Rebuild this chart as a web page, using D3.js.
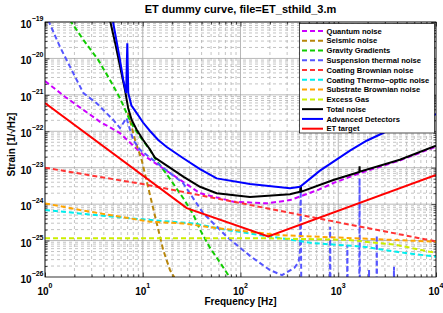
<!DOCTYPE html>
<html>
<head>
<meta charset="utf-8">
<script src="https://cdn.jsdelivr.net/npm/d3@7"></script>
<style>
body { margin: 0; background: #fff; }
svg { font-family: "Liberation Sans", Arial, sans-serif; font-weight: bold; }
</style>
</head>
<body>
<svg id="chart" width="443" height="313"></svg>
<script>
// values, [frequency in Hz, strain in 1/sqrt(Hz)]
var quantumNoise = [[1, 2.4e-21], [1.6, 8.9e-22], [3.66, 1.82e-22], [5.85, 8.9e-23], [10.1, 2.24e-23],
  [26.2, 4.0e-24], [38.5, 2.0e-24], [84.5, 1.17e-24], [185, 1.05e-24], [321, 1.29e-24],
  [631, 2.5e-24], [891, 3.8e-24], [1660, 7.1e-24], [4266, 1.58e-23], [10000, 3.8e-23]];
var seismicNoise = [[7.08, 3.2e-22], [8.34, 5.75e-23], [9.75, 1.62e-23], [11.86, 1.78e-24],
  [13.9, 3.0e-25], [16.2, 5.5e-26], [19.0, 1.55e-26], [20.9, 1.0e-26], [22, 6e-27]];
var gravityGradients = [[1.58, 5.0e-19], [1.80, 1.12e-19], [2.47, 3.24e-20], [3.5, 9.1e-21],
  [4.62, 2.57e-21], [5.85, 8.1e-22], [7.11, 2.5e-22], [8.0, 1.35e-22], [9.38, 7.1e-23],
  [11.86, 3.1e-23], [13.3, 1.82e-23], [17.8, 6.3e-24], [26.2, 1.41e-24], [33.1, 5.0e-25],
  [38.5, 2.0e-25], [48.8, 6.3e-26], [61.7, 2.5e-26], [79.4, 8.9e-27]];
var suspensionThermal = [[1, 1.78e-19], [1.42, 2.1e-20], [1.95, 3.9e-21], [2.47, 1.12e-21],
  [3.38, 5.9e-22], [5.0, 2.04e-22], [5.85, 1.23e-22], [6.82, 2.3e-22], [7.41, 1.1e-22],
  [8.0, 5.75e-23], [9.38, 3.1e-23], [11.86, 1.9e-23], [25.8, 3.8e-24], [41.3, 5.75e-25],
  [72.8, 1.26e-25], [125, 3.8e-26], [200, 1.55e-26], [266, 1.12e-26], [355, 1.78e-26],
  [394, 2.57e-26], [407, 5.5e-26], [413, 3.0e-24], [419, 3e-27],
  [818, 3e-27], [826, 2.4e-25], [834, 3e-27],
  [1228, 3e-27], [1239, 7.6e-26], [1250, 3e-27],
  [1640, 3e-27], [1652, 5.2e-24], [1664, 3e-27],
  [2050, 3e-27], [2065, 1.55e-26], [2080, 3e-27],
  [2460, 3e-27], [2478, 1.41e-25], [2496, 3e-27],
  [3690, 3e-27], [3717, 1.9e-26], [3744, 3e-27], [10000, 3e-27]];
var coatingBrownian = [[1, 1.0e-23], [10, 3.55e-24], [100, 1.07e-24], [1000, 3.16e-25], [10000, 9.5e-26]];
var coatingThermoOptic = [[1, 6.9e-25], [7.41, 4.07e-25], [32.9, 2.95e-25], [72.3, 1.95e-25],
  [254, 1.17e-25], [556, 8.5e-26], [1803, 6.8e-26], [3963, 4.9e-26], [10000, 3.6e-26]];
var substrateBrownian = [[1, 1.05e-24], [2.28, 6.9e-25], [7.41, 4.07e-25], [11.86, 3.3e-25],
  [26, 2.95e-25], [57, 2.2e-25], [254, 1.41e-25], [10000, 9.3e-26]];
var excessGas = [[1, 1.15e-25], [200, 1.15e-25], [1219, 1.05e-25], [3963, 7.6e-26], [8710, 4.9e-26], [10000, 4.6e-26]];
var totalNoise = [[4.62, 1.12e-19], [5.25, 2.5e-20], [5.94, 5.0e-21], [6.58, 1.35e-21], [7.11, 4.2e-22],
  [7.71, 2.04e-22], [8.67, 1.1e-22], [10.1, 5.75e-23], [11.86, 3.16e-23], [13.3, 1.9e-23],
  [17.8, 1.12e-23], [26.2, 5.6e-24], [38.5, 3.0e-24], [57, 2.0e-24], [125, 1.58e-24],
  [321, 1.86e-24], [407, 2.2e-24], [413, 3.2e-24], [419, 2.2e-24], [891, 4.6e-24],
  [1645, 7.6e-24], [1652, 1.1e-23], [1660, 7.8e-24], [4266, 1.66e-23], [10000, 4.0e-23]];
var advancedDetectors = [[4.97, 1e-19], [5.85, 9.1e-21], [6.32, 2.57e-21], [6.76, 1.12e-21],
  [6.95, 2.6e-20], [7.11, 1.12e-21], [7.66, 5.1e-22], [8.61, 3.24e-22], [10.07, 1.74e-22],
  [11.86, 1.02e-22], [14.4, 5.75e-23], [17.6, 3.7e-23], [26.0, 1.82e-23], [38.5, 9.1e-24],
  [57, 5.1e-24], [125, 3.55e-24], [321, 2.75e-24], [407, 3.0e-24], [650, 8.3e-24],
  [1318, 2.95e-23], [1950, 5.5e-23], [3388, 1.1e-22], [10000, 2.95e-22]];
var etTarget = [[1, 6.0e-22], [28.2, 7.8e-25], [192, 1.29e-25], [10000, 6.3e-24]];

var seriesNames = ["Quantum noise", "Seismic noise", "Gravity Gradients", "Suspension thermal noise",
  "Coating Brownian noise", "Coating Thermo\u2212optic noise", "Substrate Brownian noise", "Excess Gas",
  "Total noise", "Advanced Detectors", "ET target"];
var xTickExps = [0, 1, 2, 3, 4];
var yTickExps = [-19, -20, -21, -22, -23, -24, -25, -26];

var series = [
  {data: quantumNoise, color: "#cc00ff", dash: "5,3"},
  {data: seismicNoise, color: "#b8860b", dash: "5,3"},
  {data: gravityGradients, color: "#11cc00", dash: "5,3"},
  {data: suspensionThermal, color: "#5555ff", dash: "5,3"},
  {data: coatingBrownian, color: "#ff3333", dash: "5,3"},
  {data: coatingThermoOptic, color: "#00eeee", dash: "5,3"},
  {data: substrateBrownian, color: "#ffa500", dash: "5,3"},
  {data: excessGas, color: "#ccee00", dash: "5,3"},
  {data: totalNoise, color: "#000000", dash: null},
  {data: advancedDetectors, color: "#0000ff", dash: null},
  {data: etTarget, color: "#ff0000", dash: null}
];
series.forEach(function(s, i) { s.name = seriesNames[i]; });

var plotLeft = 45, plotRight = 436, plotTop = 22, plotBottom = 277;
var x = d3.scaleLog().domain([1, 1e4]).range([plotLeft, plotRight]);
var y = d3.scaleLog().domain([1e-26, 1e-19]).range([plotBottom, plotTop]);

var svg = d3.select("#chart");

function isMajor(d) {
  var l = Math.log10(d);
  return Math.abs(l - Math.round(l)) < 1e-6;
}

// grid
var grid = svg.append("g");
grid.selectAll(".vgrid")
  .data(x.ticks())
  .enter().append("line")
  .attr("x1", function(d) { return x(d); })
  .attr("x2", function(d) { return x(d); })
  .attr("y1", plotTop).attr("y2", plotBottom)
  .attr("stroke", function(d) { return isMajor(d) ? "#999" : "#aaa"; })
  .attr("stroke-width", 0.7)
  .attr("stroke-dasharray", function(d) { return isMajor(d) ? null : "3,3"; });
grid.selectAll(".hgrid")
  .data(y.ticks())
  .enter().append("line")
  .attr("y1", function(d) { return y(d); })
  .attr("y2", function(d) { return y(d); })
  .attr("x1", plotLeft).attr("x2", plotRight)
  .attr("stroke", function(d) { return isMajor(d) ? "#999" : "#aaa"; })
  .attr("stroke-width", 0.7)
  .attr("stroke-dasharray", function(d) { return isMajor(d) ? null : "3,3"; });

// ticks, inside, on all four sides
var minorX = x.ticks().filter(function(d) { return !isMajor(d); });
var majorX = x.ticks().filter(isMajor);
var minorY = y.ticks().filter(function(d) { return !isMajor(d); });
var majorY = y.ticks().filter(isMajor);
function addAxis(axisFn, scale, vals, size, transform) {
  svg.append("g")
    .attr("transform", transform)
    .call(axisFn(scale).tickValues(vals).tickSize(size).tickSizeOuter(0).tickFormat(""))
    .call(function(g) { g.select(".domain").remove(); })
    .selectAll("line").attr("stroke", "#000").attr("stroke-width", 0.7);
}
addAxis(d3.axisBottom, x, minorX, -2.5, "translate(0," + plotBottom + ")");
addAxis(d3.axisBottom, x, majorX, -4.5, "translate(0," + plotBottom + ")");
addAxis(d3.axisTop, x, minorX, -2.5, "translate(0," + plotTop + ")");
addAxis(d3.axisTop, x, majorX, -4.5, "translate(0," + plotTop + ")");
addAxis(d3.axisLeft, y, minorY, -2.5, "translate(" + plotLeft + ",0)");
addAxis(d3.axisLeft, y, majorY, -4.5, "translate(" + plotLeft + ",0)");
addAxis(d3.axisRight, y, minorY, -2.5, "translate(" + plotRight + ",0)");
addAxis(d3.axisRight, y, majorY, -4.5, "translate(" + plotRight + ",0)");

// curves
svg.append("clipPath").attr("id", "plotclip")
  .append("rect").attr("x", plotLeft).attr("y", plotTop)
  .attr("width", plotRight - plotLeft).attr("height", plotBottom - plotTop);

var line = d3.line()
  .x(function(d) { return x(d[0]); })
  .y(function(d) { return y(d[1]); });

svg.append("g").attr("clip-path", "url(#plotclip)")
  .selectAll("path")
  .data(series)
  .enter().append("path")
  .attr("d", function(d) { return line(d.data); })
  .attr("fill", "none")
  .attr("stroke", function(d) { return d.color; })
  .attr("stroke-width", 2)
  .attr("stroke-dasharray", function(d) { return d.dash; });

// frame
svg.append("rect")
  .attr("x", plotLeft).attr("y", plotTop)
  .attr("width", plotRight - plotLeft).attr("height", plotBottom - plotTop)
  .attr("fill", "none").attr("stroke", "#000").attr("stroke-width", 0.8);

// tick labels
var xl = svg.append("g").selectAll("text")
  .data(xTickExps)
  .enter().append("text")
  .attr("x", function(d) { return x(Math.pow(10, d)); })
  .attr("y", plotBottom + 18)
  .attr("text-anchor", "middle")
  .attr("font-size", 10);
xl.append("tspan").text("10");
xl.append("tspan").attr("dy", -7).attr("font-size", 7).text(function(d) { return d; });

var yl = svg.append("g").selectAll("text")
  .data(yTickExps)
  .enter().append("text")
  .attr("x", plotLeft - 1.5)
  .attr("y", function(d) { return y(Math.pow(10, d)) + 6; })
  .attr("text-anchor", "end")
  .attr("font-size", 10);
yl.append("tspan").text("10");
yl.append("tspan").attr("dy", -7).attr("font-size", 7).text(function(d) { return "\u2212" + Math.abs(d); });

// titles
svg.append("text")
  .attr("x", (plotLeft + plotRight) / 2).attr("y", 12.5)
  .attr("text-anchor", "middle").attr("font-size", 11)
  .text("ET dummy curve, file=ET_sthild_3.m");
svg.append("text")
  .attr("x", (plotLeft + plotRight) / 2).attr("y", 305)
  .attr("text-anchor", "middle").attr("font-size", 10)
  .text("Frequency [Hz]");
svg.append("text")
  .attr("transform", "translate(15," + ((plotTop + plotBottom) / 2 - 5) + ") rotate(-90)")
  .attr("text-anchor", "middle").attr("font-size", 10)
  .text("Strain [1/\u221AHz]");

// legend
var lg = svg.append("g");
lg.append("rect")
  .attr("x", 299.5).attr("y", 23.5)
  .attr("width", 135).attr("height", 109.5)
  .attr("fill", "#fff").attr("stroke", "#000").attr("stroke-width", 0.7);
var items = lg.selectAll(".item")
  .data(series)
  .enter().append("g")
  .attr("transform", function(d, i) { return "translate(0," + (31 + i * 9.77) + ")"; });
items.append("line")
  .attr("x1", 302).attr("x2", 323)
  .attr("stroke", function(d) { return d.color; })
  .attr("stroke-width", 2)
  .attr("stroke-dasharray", function(d) { return d.dash; });
items.append("text")
  .attr("x", 326.5).attr("y", 2.7)
  .attr("font-size", 7.6)
  .text(function(d) { return d.name; });
</script>
</body>
</html>
